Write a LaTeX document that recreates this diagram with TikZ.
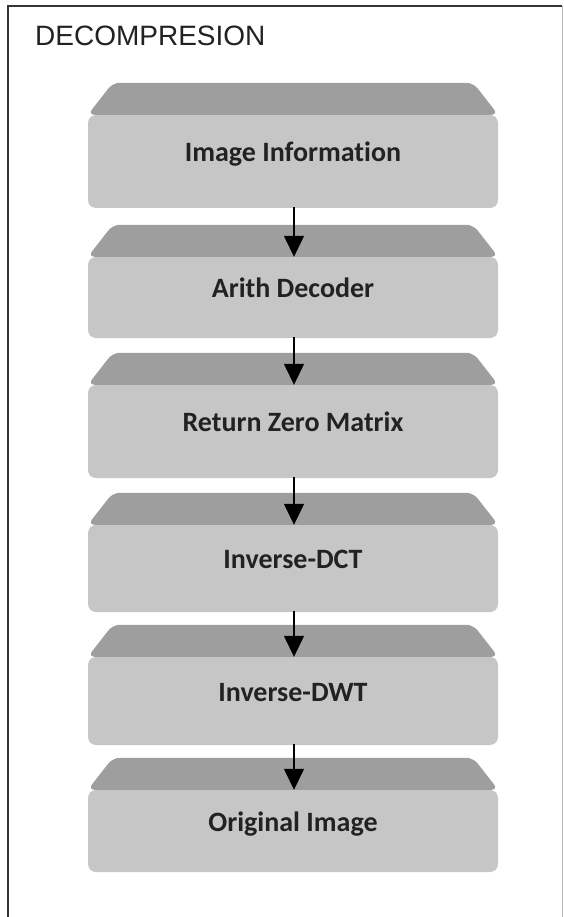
\documentclass[tikz,border=0pt]{standalone}
\usepackage{fontspec}
\setmainfont{Liberation Sans}
\newfontfamily\lblfont[Ligatures=NoCommon]{Carlito}
\usetikzlibrary{arrows.meta}
\definecolor{frontgray}{HTML}{C6C6C6}
\definecolor{topgray}{HTML}{9E9E9E}
\definecolor{framegray}{HTML}{333333}
\definecolor{txt}{HTML}{222222}
\tikzset{
  front/.style={fill=frontgray, rounded corners=8pt, minimum width=410pt,
    inner sep=0pt, text height=12pt, text depth=12pt,
    font=\lblfont\bfseries\fontsize{28}{30}\selectfont, text=txt},
  topface/.style={fill=topgray, rounded corners=7pt},
  arr/.style={draw=black, line width=1.4pt, -{Triangle[width=20pt,length=21pt]}},
  frame/.style={draw=framegray, line width=2pt},
}
\newcommand{\topof}[1]{%
  \fill[topface] (#1.north west) -- ++(25,-32) -- ([xshift=-25pt,yshift=32pt]#1.north east) -- (#1.north east) -- cycle;}
\begin{document}
\begin{tikzpicture}[x=1pt,y=-1pt]
\useasboundingbox (0,0) rectangle (563,917);
% frame
\draw[frame] (8,917) -- (8,6) -- (562,6);
\draw[draw=framegray!35, line width=1pt] (562,6) -- (562,917);
\node[anchor=west, font=\fontsize{28}{30}\selectfont, text=txt, inner sep=0pt] (title) at (35,36) {DECOMPRESION};
% boxes: front faces
\node[front, minimum height=93pt] (f1) at (293,161.5) {Image Information};
\node[front, minimum height=81pt] (f2) at (293,297.5) {Arith Decoder};
\node[front, minimum height=93pt] (f3) at (293,431.5) {Return Zero Matrix};
\node[front, minimum height=87pt] (f4) at (293,568.5) {Inverse-DCT};
\node[front, minimum height=88pt] (f5) at (293,701) {Inverse-DWT};
\node[front, minimum height=82pt] (f6) at (293,831) {Original Image};
\topof{f1}\topof{f2}\topof{f3}\topof{f4}\topof{f5}\topof{f6}
% arrows
\draw[arr] ([xshift=1pt,yshift=1pt]f1.south) -- ([xshift=1pt]f2.north);
\draw[arr] ([xshift=1pt,yshift=1pt]f2.south) -- ([xshift=1pt]f3.north);
\draw[arr] ([xshift=1pt,yshift=1pt]f3.south) -- ([xshift=1pt]f4.north);
\draw[arr] ([xshift=1pt,yshift=1pt]f4.south) -- ([xshift=1pt]f5.north);
\draw[arr] ([xshift=1pt,yshift=1pt]f5.south) -- ([xshift=1pt]f6.north);
\end{tikzpicture}
\end{document}
